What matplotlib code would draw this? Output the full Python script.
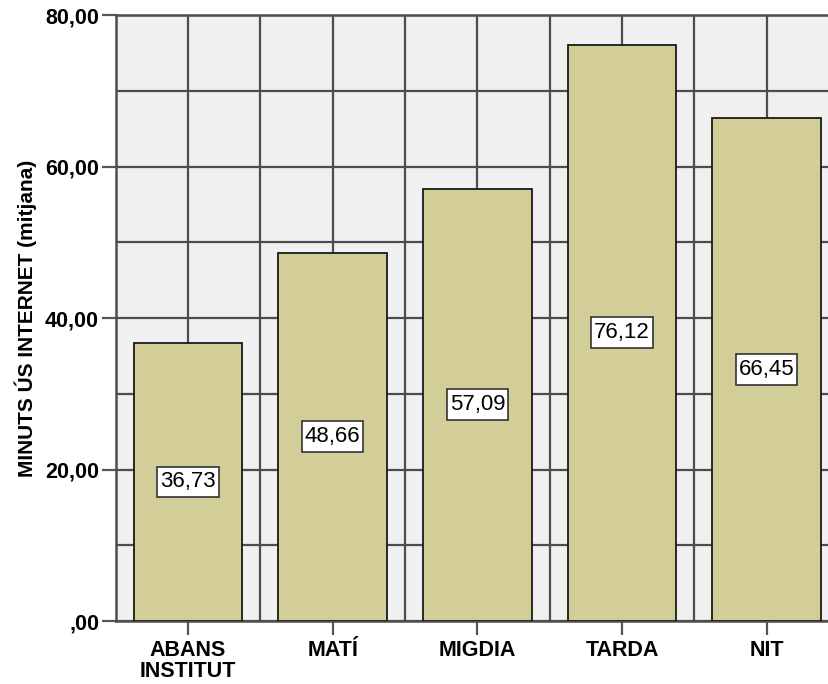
import numpy as np
import matplotlib.pyplot as plt
from matplotlib.path import Path
from matplotlib.ticker import MultipleLocator, FixedLocator

# Data
categories = ["ABANS\nINSTITUT", "MATÍ", "MIGDIA", "TARDA", "NIT"]
means = [36.73, 48.66, 57.09, 76.12, 66.45]
value_labels = ["36,73", "48,66", "57,09", "76,12", "66,45"]
y_ticks = [0, 20, 40, 60, 80]
y_tick_labels = [",00", "20,00", "40,00", "60,00", "80,00"]

plt.rcParams["font.family"] = ["Liberation Sans", "DejaVu Sans"]


def label_box(x0, y0, width, height, mutation_size):
    # square box, a bit more padding above/below than at the sides
    px = 0.13 * mutation_size
    py = 0.22 * mutation_size
    x0, x1 = x0 - px, x0 + width + px
    y0, y1 = y0 - py, y0 + height + py
    return Path([(x0, y0), (x1, y0), (x1, y1), (x0, y1), (x0, y0)], closed=True)


fig = plt.figure(figsize=(8.29, 6.84), dpi=100)
# plot area runs past the right edge of the picture, as in the original
ax = fig.add_axes([0.1396, 0.0921, 0.8725, 0.8855])
ax.set_facecolor("#F0F0F0")

x = np.arange(len(categories))
ax.bar(x, means, width=0.75, color="#D3CE97", edgecolor="#1a1a1a",
       linewidth=1.3, zorder=3)

# value labels in white boxes at half the bar height
for xi, v, lab in zip(x, means, value_labels):
    ax.text(xi, v / 2, lab, ha="center", va="center", fontsize=16,
            color="black", zorder=4,
            bbox=dict(boxstyle=label_box, facecolor="white",
                      edgecolor="#333333", linewidth=1.2))

ax.set_xlim(-0.5, len(categories) - 0.5)
ax.set_ylim(0, 80)

ax.set_yticks(y_ticks)
ax.set_yticklabels(y_tick_labels, fontsize=15.5, fontweight="bold")
ax.yaxis.set_minor_locator(MultipleLocator(10))
ax.set_xticks(x)
ax.set_xticklabels(categories, fontsize=15.5, fontweight="bold", linespacing=0.95)
ax.xaxis.set_minor_locator(FixedLocator(x[:-1] + 0.5))

ax.tick_params(axis="both", which="major", length=10, width=1.6,
               color="#555555")
ax.tick_params(axis="y", which="major", pad=2)
ax.tick_params(axis="x", which="major", pad=4)
ax.tick_params(axis="both", which="minor", length=0)

# grid lines at every 10 and at bar centres / boundaries
ax.grid(True, which="both", color="#4d4d4d", linewidth=1.6, zorder=1)
ax.set_axisbelow(True)

for side in ["left", "top", "bottom", "right"]:
    ax.spines[side].set_color("#4d4d4d")
    ax.spines[side].set_linewidth(1.8)

ax.set_ylabel("MINUTS ÚS INTERNET (mitjana)", fontsize=15, fontweight="bold",
              labelpad=6)

fig.savefig("out.png", dpi=100)
